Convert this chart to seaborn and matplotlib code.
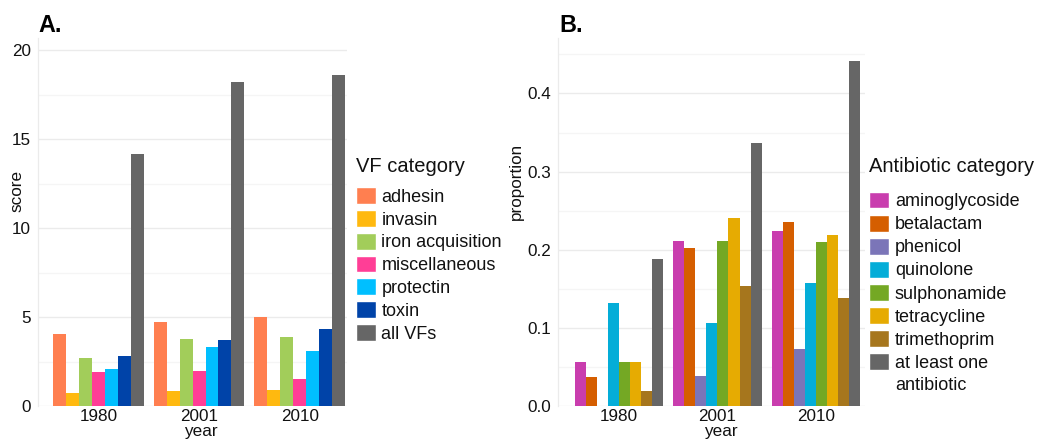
import matplotlib
matplotlib.use('Agg')
import matplotlib.pyplot as plt
import seaborn as sns
import pandas as pd
from matplotlib.patches import Patch
from matplotlib.ticker import MultipleLocator, FormatStrFormatter

# ---------------- data ----------------
years = ['1980', '2001', '2010']

vf_categories = ['adhesin', 'invasin', 'iron acquisition', 'miscellaneous',
                 'protectin', 'toxin', 'all VFs']
vf_colors = ['#FF7F50', '#FFB90F', '#A2CD5A', '#FF3E96', '#00BFFF', '#0043A8', '#666666']
vf_adhesin = [4.03, 4.71, 4.99]
vf_invasin = [0.75, 0.86, 0.92]
vf_iron = [2.72, 3.75, 3.87]
vf_misc = [1.89, 1.95, 1.52]
vf_protectin = [2.08, 3.32, 3.11]
vf_toxin = [2.80, 3.73, 4.31]
vf_all = [14.16, 18.25, 18.61]

ab_categories = ['aminoglycoside', 'betalactam', 'phenicol', 'quinolone',
                 'sulphonamide', 'tetracycline', 'trimethoprim',
                 'at least one antibiotic']
ab_colors = ['#C93DAE', '#D55E00', '#7B75B8', '#04ADD8', '#74A824', '#E6AB02',
             '#A6761D', '#666666']
ab_amino = [0.0566, 0.2113, 0.2237]
ab_beta = [0.0377, 0.2019, 0.2357]
ab_phenicol = [0.0, 0.0385, 0.0730]
ab_quin = [0.1321, 0.1058, 0.1579]
ab_sulph = [0.0566, 0.2113, 0.2105]
ab_tetra = [0.0566, 0.2404, 0.2193]
ab_trim = [0.0189, 0.1538, 0.1382]
ab_any = [0.1887, 0.3365, 0.4421]

vf_values = [vf_adhesin, vf_invasin, vf_iron, vf_misc, vf_protectin, vf_toxin, vf_all]
ab_values = [ab_amino, ab_beta, ab_phenicol, ab_quin, ab_sulph, ab_tetra, ab_trim, ab_any]

dfA = pd.DataFrame([(y, c, v[i]) for c, v in zip(vf_categories, vf_values)
                    for i, y in enumerate(years)], columns=['year', 'category', 'score'])
dfB = pd.DataFrame([(y, c, v[i]) for c, v in zip(ab_categories, ab_values)
                    for i, y in enumerate(years)], columns=['year', 'category', 'proportion'])

# ---------------- style ----------------
sns.set_theme(style='white')
plt.rcParams['font.family'] = ['Liberation Sans', 'DejaVu Sans']
TXT = '#111111'

W, H = 1038, 442
fig = plt.figure(figsize=(W / 100, H / 100), dpi=100)

axA = fig.add_axes([38 / W, 1 - 406 / H, (347 - 38) / W, (406 - 38) / H])
axB = fig.add_axes([558 / W, 1 - 406 / H, (865 - 558) / W, (406 - 38) / H])

sns.barplot(data=dfA, x='year', y='score', hue='category', order=years,
            hue_order=vf_categories, palette=vf_colors, width=0.9, gap=0,
            linewidth=0, saturation=1, errorbar=None, legend=False, ax=axA)
sns.barplot(data=dfB, x='year', y='proportion', hue='category', order=years,
            hue_order=ab_categories, palette=ab_colors, width=0.9, gap=0,
            linewidth=0, saturation=1, errorbar=None, legend=False, ax=axB)

axA.set_xlim(-0.6, 2.47)
axA.set_ylim(0, 20.7)
axA.yaxis.set_major_locator(MultipleLocator(5))
axA.yaxis.set_minor_locator(MultipleLocator(2.5))

axB.set_xlim(-0.62, 2.5)
axB.set_ylim(0, 0.471)
axB.yaxis.set_major_locator(MultipleLocator(0.1))
axB.yaxis.set_minor_locator(MultipleLocator(0.05))
axB.yaxis.set_major_formatter(FormatStrFormatter('%.1f'))

for ax in (axA, axB):
    ax.set_axisbelow(True)
    ax.grid(which='major', axis='y', color='#EBEBEB', lw=1.0)
    ax.grid(which='minor', axis='y', color='#F5F5F5', lw=0.9)
    for s in ('top', 'right', 'bottom'):
        ax.spines[s].set_visible(False)
    ax.spines['left'].set_color('#EBEBEB')
    ax.spines['left'].set_linewidth(0.9)
    ax.tick_params(axis='y', which='major', length=3, width=0.8, color='#333333',
                   pad=2, labelsize=12.3, labelcolor=TXT)
    ax.tick_params(axis='y', which='minor', length=0)
    ax.tick_params(axis='x', length=0, pad=2.5, labelsize=12.3, labelcolor=TXT)

axA.set_ylabel('score', fontsize=12.3, color=TXT)
axA.set_xlabel('year', fontsize=12.3, color=TXT)
axA.yaxis.set_label_coords(-0.045, 0.584)
axA.xaxis.set_label_coords(0.527, -0.05)

axB.set_ylabel('proportion', fontsize=12.3, color=TXT)
axB.set_xlabel('year', fontsize=12.3, color=TXT)
axB.yaxis.set_label_coords(-0.11, 0.61)
axB.xaxis.set_label_coords(0.531, -0.05)

fig.text(38.3 / W, 1 - 31.7 / H, 'A.', fontsize=16.8, weight='bold', va='baseline', color='black')
fig.text(559.3 / W, 1 - 31.7 / H, 'B.', fontsize=16.8, weight='bold', va='baseline', color='black')

# legend titles
fig.text(356 / W, 1 - 171.7 / H, 'VF category', fontsize=14.5, va='baseline', color=TXT)
fig.text(869.3 / W, 1 - 171.7 / H, 'Antibiotic category', fontsize=14.5, va='baseline', color=TXT)

leg_kw = dict(loc='upper left', frameon=False, fontsize=13, alignment='left',
              handlelength=1.1, handleheight=1.05, handletextpad=0.31,
              borderpad=0, borderaxespad=0, labelcolor=TXT)
legA = fig.legend(handles=[Patch(facecolor=c, label=l) for c, l in zip(vf_colors, vf_categories)],
                  bbox_to_anchor=(356 / W, 1 - 187.3 / H), labelspacing=0.235, **leg_kw)
ab_labels = ab_categories[:-1] + ['at least one']
legB = fig.legend(handles=[Patch(facecolor=c, label=l) for c, l in zip(ab_colors, ab_labels)],
                  bbox_to_anchor=(869.3 / W, 1 - 191.7 / H), labelspacing=0.252, **leg_kw)

# second line of the wrapped last label, placed under the first line
fig.canvas.draw()
t_last = legB.get_texts()[-1]
bb = t_last.get_window_extent()
x0 = bb.x0 / fig.dpi / (W / 100)
fig.text(x0, (bb.y0 - 21.7 + 4.0) / H, 'antibiotic', fontsize=13, va='baseline', color=TXT)

fig.savefig('out.png', dpi=100)
